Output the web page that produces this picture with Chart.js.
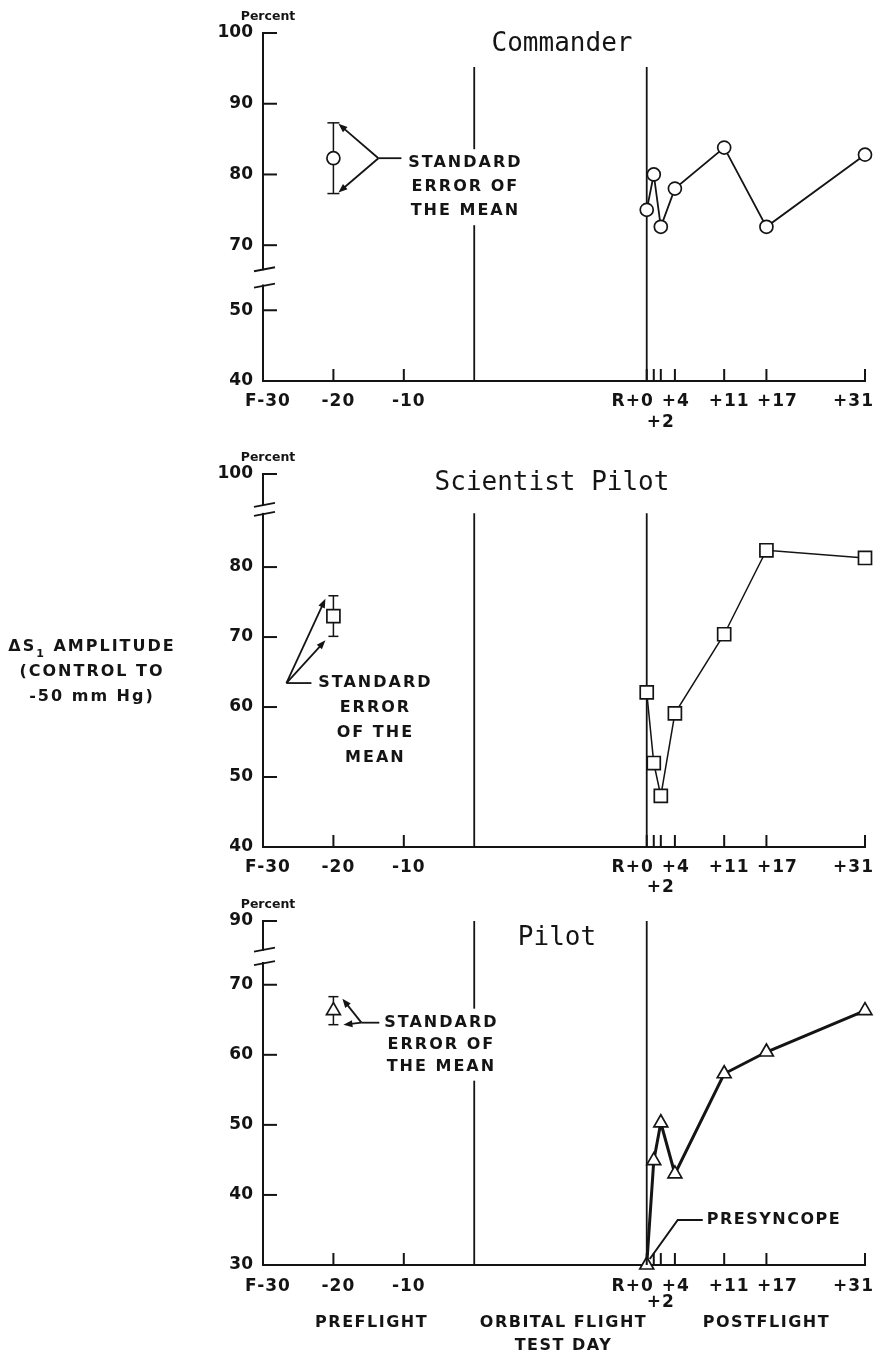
<!DOCTYPE html>
<html>
<head>
<meta charset="utf-8">
<script src="https://cdn.jsdelivr.net/npm/chart.js@4.4.1/dist/chart.umd.min.js"></script>
<style>
  body { margin: 0; background: #fff; width: 880px; height: 1360px; position: relative; overflow: hidden; }
  canvas { position: absolute; left: 0; }
</style>
</head>
<body>
<canvas id="cmdChart" width="880" height="440" style="top:0px"></canvas>
<canvas id="spChart" width="880" height="470" style="top:440px"></canvas>
<canvas id="plChart" width="880" height="470" style="top:890px"></canvas>
<script>
// axis position of the recovery day (the flight days are drawn compressed)
const RECOVERY = 24.5;
const PRE_DAY = -20;

// x axis ticks
const preTickDays = [-30, -20, -10];
const preTickLabels = ['F-30', '-20', '-10'];
const postTickDays = [0, 1, 2, 4, 11, 17, 31];
const postTickLabels = ['R+0', '', '+2', '+4', '+11', '+17', '+31'];
const phaseLabels = ['PREFLIGHT', 'ORBITAL FLIGHT', 'TEST DAY', 'POSTFLIGHT'];

// Commander
const cmdYTicks = [40, 50, 70, 80, 90, 100];
const cmdPostDays = [0, 1, 2, 4, 11, 17, 31];
const cmdPostValues = [75, 80, 72.6, 78, 83.8, 72.6, 82.8];
const cmdPreMean = [82.3];
const cmdPreSem = [5];

// Scientist Pilot
const spYTicks = [40, 50, 60, 70, 80, 100];
const spPostDays = [0, 1, 2, 4, 11, 17, 31];
const spPostValues = [62.1, 52, 47.3, 59.1, 70.4, 82.4, 81.3];
const spPreMean = [73];
const spPreSem = [2.9];

// Pilot
const plYTicks = [30, 40, 50, 60, 70, 90];
const plPostDays = [0, 1, 2, 4, 11, 17, 31];
const plPostValues = [30, 44.9, 50.3, 43, 57.3, 60.4, 66.3];
const plPreMean = [66.3];
const plPreSem = [2];

const INK = '#141414';
Chart.defaults.font.family = 'DejaVu Sans';

function line(ctx, x1, y1, x2, y2) {
  ctx.beginPath(); ctx.moveTo(x1, y1); ctx.lineTo(x2, y2); ctx.stroke();
}

function arrow(ctx, x1, y1, x2, y2) {
  const a = Math.atan2(y2 - y1, x2 - x1), L = 9, W = 3.5;
  line(ctx, x1, y1, x2 - 5 * Math.cos(a), y2 - 5 * Math.sin(a));
  ctx.beginPath();
  ctx.moveTo(x2, y2);
  ctx.lineTo(x2 - L * Math.cos(a) + W * Math.sin(a), y2 - L * Math.sin(a) - W * Math.cos(a));
  ctx.lineTo(x2 - L * Math.cos(a) - W * Math.sin(a), y2 - L * Math.sin(a) + W * Math.cos(a));
  ctx.closePath(); ctx.fill();
}

function textRows(ctx, rows, cx, y0, step, clear) {
  ctx.font = 'bold 16px "DejaVu Sans"';
  ctx.letterSpacing = '2px';
  ctx.textAlign = 'center';
  ctx.textBaseline = 'middle';
  if (clear) {
    const w = Math.max(...rows.map(r => ctx.measureText(r).width));
    ctx.fillStyle = '#fff';
    ctx.fillRect(cx - w / 2 - 4, y0 - 14, w + 8, step * (rows.length - 1) + 28);
    ctx.fillStyle = INK;
  }
  rows.forEach((r, i) => ctx.fillText(r, cx + 1, y0 + i * step));
  ctx.letterSpacing = '0px';
}

// small horizontal nudges of the postflight labels, as lettered on the original
const postLabelNudge = {0: 7, 2: 0, 4: 1, 11: 5, 17: 11};

function decor(cfg, disp) {
  return {
    id: 'decor',
    beforeDatasetsDraw(chart) {
      const {ctx, scales: {x, y}} = chart;
      ctx.save();
      ctx.strokeStyle = INK;
      ctx.lineWidth = 1.8;
      [0, RECOVERY].forEach(d => {
        const px = x.getPixelForValue(d);
        line(ctx, px, y.getPixelForValue(cfg.lineTop), px, y.bottom);
      });
      // standard error of the mean, preflight
      const ex = x.getPixelForValue(PRE_DAY);
      const hi = y.getPixelForValue(disp(cfg.preMean[0] + cfg.preSem[0]));
      const lo = y.getPixelForValue(disp(cfg.preMean[0] - cfg.preSem[0]));
      ctx.lineWidth = 1.5;
      line(ctx, ex, hi, ex, lo);
      line(ctx, ex - cfg.cap, hi, ex + cfg.cap, hi);
      line(ctx, ex - cfg.cap, lo, ex + cfg.cap, lo);
      ctx.restore();
    },
    afterDraw(chart) {
      const {ctx, scales: {x, y}} = chart;
      ctx.save();
      ctx.strokeStyle = INK;
      ctx.fillStyle = INK;
      ctx.lineWidth = 2;
      // tick marks point into the plot
      y.ticks.forEach(t => {
        const py = y.getPixelForValue(t.value);
        line(ctx, x.left - 1, py, x.left + 14, py);
      });
      x.ticks.forEach(t => {
        if (t.value === x.min) return;
        const px = x.getPixelForValue(t.value);
        line(ctx, px, y.bottom, px, y.bottom - 12);
      });
      // axis break
      const g1 = y.getPixelForValue(cfg.gap[0]), g2 = y.getPixelForValue(cfg.gap[1]);
      ctx.fillStyle = '#fff';
      ctx.fillRect(x.left - 4, g2 + 1, 8, g1 - g2 - 2);
      ctx.fillStyle = INK;
      ctx.lineWidth = 1.8;
      line(ctx, x.left - 9, g1 + 2, x.left + 12, g1 - 2);
      line(ctx, x.left - 9, g2 + 2, x.left + 12, g2 - 2);

      // x tick labels
      ctx.font = 'bold 17px "DejaVu Sans"';
      ctx.letterSpacing = '1px';
      ctx.textBaseline = 'middle';
      preTickDays.forEach((d, i) => {
        ctx.textAlign = 'center';
        ctx.fillText(preTickLabels[i], x.getPixelForValue(d) + 5, y.bottom + cfg.row1);
      });
      const lastDay = postTickDays[postTickDays.length - 1];
      postTickDays.forEach((d, i) => {
        const lbl = postTickLabels[i];
        if (!lbl) return;
        const px = x.getPixelForValue(RECOVERY + d);
        const row = y.bottom + (d === 2 ? cfg.row2 : cfg.row1);
        if (d === 0 || d === lastDay) {
          ctx.textAlign = 'right';
          ctx.fillText(lbl, px + (d === 0 ? 7 : 9), row);
        } else {
          ctx.textAlign = 'center';
          ctx.fillText(lbl, px + (postLabelNudge[d] || 0), row);
        }
      });
      ctx.letterSpacing = '0px';

      // unit and title
      ctx.font = 'bold 12.5px "DejaVu Sans"';
      ctx.textAlign = 'center';
      ctx.fillText('Percent', x.left + 5, y.top - 16);
      ctx.font = '26px "DejaVu Sans Mono"';
      ctx.textBaseline = 'alphabetic';
      ctx.fillText(cfg.title, cfg.titleX, y.top + cfg.titleDy);

      // annotation next to the preflight mean
      const p = {
        x: x.getPixelForValue(PRE_DAY),
        y: y.getPixelForValue(disp(cfg.preMean[0])),
        hi: y.getPixelForValue(disp(cfg.preMean[0] + cfg.preSem[0])),
        lo: y.getPixelForValue(disp(cfg.preMean[0] - cfg.preSem[0]))
      };
      ctx.lineWidth = 1.8;
      cfg.note(ctx, p, chart);
      if (cfg.extra) cfg.extra(ctx, chart);
      ctx.restore();
    }
  };
}

function makePanel(id, cfg) {
  const disp = v => v < cfg.split ? v + cfg.lowShift : v + cfg.highShift;
  const pointStyle = {
    pointStyle: cfg.marker,
    pointRadius: cfg.radius,
    pointBackgroundColor: '#fff',
    pointBorderColor: INK,
    pointBorderWidth: 1.7
  };
  const ctx = document.getElementById(id).getContext('2d');
  return new Chart(ctx, {
    type: 'line',
    data: {
      datasets: [
        Object.assign({
          data: cfg.days.map((d, i) => ({x: RECOVERY + d, y: disp(cfg.values[i])})),
          borderColor: INK,
          borderWidth: cfg.lineWidth,
          tension: 0,
          clip: false
        }, pointStyle),
        Object.assign({
          data: cfg.preMean.map(m => ({x: PRE_DAY, y: disp(m)})),
          showLine: false,
          clip: false
        }, pointStyle)
      ]
    },
    options: {
      responsive: false,
      animation: false,
      events: [],
      layout: {padding: {top: cfg.top, right: 15, left: 0, bottom: 0}},
      plugins: {legend: {display: false}, tooltip: {enabled: false}},
      scales: {
        x: {
          type: 'linear',
          min: preTickDays[0],
          max: RECOVERY + postTickDays[postTickDays.length - 1],
          afterBuildTicks: s => {
            s.ticks = preTickDays.concat(postTickDays.map(d => RECOVERY + d)).map(v => ({value: v}));
          },
          afterFit: s => { s.height = cfg.xh; },
          grid: {display: false, drawTicks: false},
          border: {display: true, color: INK, width: 2},
          ticks: {display: false}
        },
        y: {
          type: 'linear',
          min: disp(cfg.yTicks[0]),
          max: disp(cfg.yTicks[cfg.yTicks.length - 1]),
          afterBuildTicks: s => { s.ticks = cfg.yTicks.map(v => ({value: disp(v)})); },
          afterFit: s => { s.width = 263; },
          grid: {display: false, drawTicks: false},
          border: {display: true, color: INK, width: 2},
          ticks: {
            color: INK,
            padding: 10,
            font: {family: 'DejaVu Sans', weight: 'bold', size: 17},
            callback: (v, i) => String(cfg.yTicks[i])
          }
        }
      }
    },
    plugins: [decor(cfg, disp)]
  });
}

makePanel('cmdChart', {
  title: 'Commander', titleX: 562, titleDy: 18,
  top: 33, xh: 59,
  yTicks: cmdYTicks, split: 60, lowShift: 10.8, highShift: 0, gap: [64.3, 66.6], lineTop: 95.2,
  days: cmdPostDays, values: cmdPostValues, preMean: cmdPreMean, preSem: cmdPreSem,
  marker: 'circle', radius: 6.5, lineWidth: 1.8, cap: 6,
  row1: 21, row2: 42,
  note: (ctx, p) => {
    const jx = p.x + 45, jy = p.y;
    arrow(ctx, jx, jy, p.x + 5, p.hi + 1);
    arrow(ctx, jx, jy, p.x + 5, p.lo - 1);
    line(ctx, jx, jy, jx + 23, jy);
    textRows(ctx, ['STANDARD', 'ERROR OF', 'THE MEAN'], p.x + 131, p.y + 5, 24, true);
  }
});

makePanel('spChart', {
  title: 'Scientist Pilot', titleX: 552, titleDy: 16,
  top: 34, xh: 63,
  yTicks: spYTicks, split: 90, lowShift: 0, highShift: -6.7, gap: [87.6, 88.9], lineTop: 87.7,
  days: spPostDays, values: spPostValues, preMean: spPreMean, preSem: spPreSem,
  marker: 'rect', radius: 9.2, lineWidth: 1.5, cap: 5,
  row1: 21, row2: 41,
  note: (ctx, p) => {
    const jx = p.x - 47, jy = p.y + 67;
    arrow(ctx, jx, jy, p.x - 8, p.hi + 3);
    arrow(ctx, jx, jy, p.x - 8, p.lo + 4);
    line(ctx, jx, jy, jx + 25, jy);
    textRows(ctx, ['STANDARD', 'ERROR', 'OF THE', 'MEAN'], p.x + 41, jy, 25, false);
  },
  extra: (ctx, chart) => {
    // y axis title
    const cx = 92, y0 = 207, step = 25;
    ctx.textAlign = 'left';
    ctx.textBaseline = 'middle';
    ctx.letterSpacing = '2px';
    ctx.font = 'bold 16px "DejaVu Sans"';
    const a = 'ΔS', c = ' AMPLITUDE';
    const wa = ctx.measureText(a).width, wc = ctx.measureText(c).width;
    ctx.font = 'bold 11px "DejaVu Sans"';
    const wb = ctx.measureText('1').width;
    let sx = cx - (wa + wb + wc) / 2;
    ctx.font = 'bold 16px "DejaVu Sans"';
    ctx.fillText(a, sx, y0);
    ctx.font = 'bold 11px "DejaVu Sans"';
    ctx.fillText('1', sx + wa, y0 + 7);
    ctx.font = 'bold 16px "DejaVu Sans"';
    ctx.fillText(c, sx + wa + wb, y0);
    ctx.textAlign = 'center';
    ctx.fillText('(CONTROL TO', cx, y0 + step);
    ctx.fillText('-50 mm Hg)', cx, y0 + 2 * step);
    ctx.letterSpacing = '0px';
  }
});

makePanel('plChart', {
  title: 'Pilot', titleX: 557, titleDy: 24,
  top: 31, xh: 95,
  yTicks: plYTicks, split: 80, lowShift: 0, highShift: -10.9, gap: [73.1, 75], lineTop: 79.1,
  days: plPostDays, values: plPostValues, preMean: plPreMean, preSem: plPreSem,
  marker: 'triangle', radius: 8, lineWidth: 3, cap: 5,
  row1: 22, row2: 38,
  note: (ctx, p) => {
    const jx = p.x + 28, jy = p.y + 12;
    arrow(ctx, jx, jy, p.x + 9, p.hi + 2);
    arrow(ctx, jx, jy, p.x + 10, p.lo);
    line(ctx, jx, jy, jx + 20, jy);
    textRows(ctx, ['STANDARD', 'ERROR OF', 'THE MEAN'], p.x + 107, jy, 22, true);
  },
  extra: (ctx, chart) => {
    const {x, y} = chart.scales;
    // presyncope marker on recovery day
    const px = x.getPixelForValue(RECOVERY + plPostDays[0]);
    const py = y.getPixelForValue(plPostValues[0]);
    ctx.lineWidth = 2;
    ctx.beginPath();
    ctx.moveTo(px + 3, py - 6);
    ctx.lineTo(px + 31, py - 45);
    ctx.lineTo(px + 56, py - 45);
    ctx.stroke();
    ctx.font = 'bold 16px "DejaVu Sans"';
    ctx.letterSpacing = '1.5px';
    ctx.textAlign = 'left';
    ctx.textBaseline = 'middle';
    ctx.fillText('PRESYNCOPE', px + 60, py - 45);
    // phase labels under the axis
    ctx.textAlign = 'center';
    const by = y.bottom + 58;
    ctx.fillText(phaseLabels[0], x.getPixelForValue(-15) + 3, by);
    ctx.fillText(phaseLabels[1], x.getPixelForValue(RECOVERY / 2) + 3, by);
    ctx.fillText(phaseLabels[2], x.getPixelForValue(RECOVERY / 2) + 3, by + 23);
    ctx.fillText(phaseLabels[3], x.getPixelForValue(RECOVERY + 17), by);
    ctx.letterSpacing = '0px';
  }
});
</script>
</body>
</html>
